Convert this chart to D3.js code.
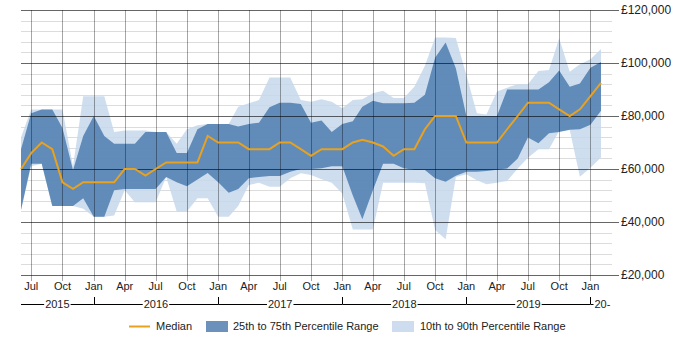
<!DOCTYPE html>
<html>
<head>
<meta charset="utf-8">
<script src="https://cdn.jsdelivr.net/npm/d3@7"></script>
<style>
  body { margin: 0; background: #fff; }
  svg { font-family: "Liberation Sans", Arial, sans-serif; }
  .tick-label { font-size: 11px; fill: #222; }
  .legend text { font-size: 11px; fill: #222; }
</style>
</head>
<body>
<svg id="chart" width="700" height="350"></svg>
<script>
// Monthly salary percentiles, Jun 2015 - Feb 2020
const months = [
  '2015-06','2015-07','2015-08','2015-09','2015-10','2015-11','2015-12',
  '2016-01','2016-02','2016-03','2016-04','2016-05','2016-06','2016-07','2016-08','2016-09','2016-10','2016-11','2016-12',
  '2017-01','2017-02','2017-03','2017-04','2017-05','2017-06','2017-07','2017-08','2017-09','2017-10','2017-11','2017-12',
  '2018-01','2018-02','2018-03','2018-04','2018-05','2018-06','2018-07','2018-08','2018-09','2018-10','2018-11','2018-12',
  '2019-01','2019-02','2019-03','2019-04','2019-05','2019-06','2019-07','2019-08','2019-09','2019-10','2019-11','2019-12',
  '2020-01','2020-02'
]

const p90 = [
  72000, 82500, 82500, 82500, 82500, 61000, 87500,
  87500, 87500, 74000, 74500, 74500, 74500, 74000, 74000, 69500, 75000, 76500, 77000,
  77000, 77000, 83500, 84800, 86000, 94500, 94500, 94500, 86000, 85400, 86300, 85400,
  82900, 86000, 86300, 88600, 89500, 86800, 86800, 91000, 99000, 109600, 109600, 109400,
  95500, 81000, 80600, 89200, 90700, 92000, 92000, 97000, 97400, 109300, 96700, 99500,
  101400, 105300
]
const p75 = [
  67500, 81000, 82500, 82500, 75500, 59500, 72500,
  80000, 72500, 69500, 69500, 69500, 74000, 74000, 74000, 66000, 66000, 75000, 77000,
  77000, 77000, 76000, 77000, 77500, 83300, 85000, 85000, 84500, 77500, 78300, 74000,
  77000, 78000, 83500, 85800, 84800, 84800, 84800, 85000, 88000, 102000, 107700, 98000,
  80000, 80000, 80000, 80000, 90000, 90000, 90000, 90000, 92700, 97200, 91000, 92300,
  98200, 100400
]
const median = [
  60000, 66000, 70000, 67500, 55000, 52500, 55000,
  55000, 55000, 55000, 60000, 60000, 57500, 60000, 62500, 62500, 62500, 62500, 72500,
  70000, 70000, 70000, 67500, 67500, 67500, 70000, 70000, 67500, 65000, 67500, 67500,
  67500, 70000, 71000, 70000, 68500, 65000, 67500, 67500, 75000, 80000, 80000, 80000,
  70000, 70000, 70000, 70000, 75000, 80000, 85000, 85000, 85000, 82500, 80000, 82500,
  87500, 92500
]
const p25 = [
  44500, 62000, 62000, 46000, 46000, 46000, 49000,
  42000, 42000, 52000, 52500, 52500, 52500, 52500, 57000, 55000, 53500, 56000, 58500,
  55000, 51000, 52500, 56500, 57000, 57400, 57400, 59000, 60000, 60000, 60300, 61000,
  61000, 50000, 41000, 52000, 62000, 62000, 60300, 59600, 59600, 56500, 55200, 57500,
  59000, 59000, 59200, 59700, 60200, 64000, 71900, 69700, 73500, 74000, 74800, 75000,
  76700, 82000
]
const p10 = [
  44500, 61000, 62000, 46000, 46000, 46000, 45000,
  42000, 42000, 42500, 52000, 47500, 47500, 47500, 57000, 44000, 44000, 49000, 49000,
  42000, 42000, 46000, 54000, 54800, 53300, 53300, 56500, 58400, 57700, 56100, 54800,
  50800, 37200, 37200, 37200, 54800, 54800, 54800, 54800, 54600, 37000, 33500, 57000,
  58000, 55800, 54200, 54800, 55500, 60200, 64200, 67500, 67500, 74300, 74700, 57100,
  60500, 64300
]

const yTicks = [20000, 40000, 60000, 80000, 100000, 120000]
const monthNames = ['Jan', 'Apr', 'Jul', 'Oct']
const years = ['2015', '2016', '2017', '2018', '2019', '20-']

const parse = d3.timeParse('%Y-%m')
const data = months.map((m, i) => ({
  date: parse(m), p10: p10[i], p25: p25[i], median: median[i], p75: p75[i], p90: p90[i]
}))

const svg = d3.select('#chart')
const plot = { left: 21, right: 601, top: 10, bottom: 275 }

const x = d3.scaleTime()
  .domain(d3.extent(data, d => d.date))
  .range([plot.left, plot.right])
const y = d3.scaleLinear()
  .domain([20000, 120000])
  .range([plot.bottom, plot.top])

// Minor gridlines every 4,000
const minor = d3.range(20000, 120001, 4000).filter(v => yTicks.indexOf(v) < 0)
svg.append('g')
  .selectAll('line')
  .data(minor)
  .join('line')
  .attr('x1', plot.left).attr('x2', 612)
  .attr('y1', d => Math.round(y(d)) + 0.5).attr('y2', d => Math.round(y(d)) + 0.5)
  .style('stroke', '#dcdcdc')

// Bands and median
const band = (lo, hi) => d3.area()
  .x(d => x(d.date))
  .y0(d => y(d[lo]))
  .y1(d => y(d[hi]))

svg.append('path')
  .datum(data)
  .attr('d', band('p10', 'p90'))
  .style('fill', '#c5d8ec')
  .style('opacity', 0.85)

svg.append('path')
  .datum(data)
  .attr('d', band('p25', 'p75'))
  .style('fill', '#4d7daf')
  .style('opacity', 0.85)

// Quarter gridlines (vertical)
const qTicks = x.ticks(d3.timeMonth.every(3))
svg.append('g')
  .selectAll('line')
  .data(qTicks)
  .join('line')
  .attr('x1', d => Math.round(x(d)) + 0.5).attr('x2', d => Math.round(x(d)) + 0.5)
  .attr('y1', plot.top).attr('y2', plot.bottom + 6)
  .style('stroke', '#000')
  .style('stroke-opacity', 0.35)

// Major gridlines, running out into the tick marks
svg.append('g')
  .selectAll('line')
  .data(yTicks)
  .join('line')
  .attr('x1', plot.left).attr('x2', 619)
  .attr('y1', d => Math.round(y(d)) + 0.5).attr('y2', d => Math.round(y(d)) + 0.5)
  .style('stroke', '#000')
  .style('stroke-opacity', 0.6)

svg.append('path')
  .datum(data)
  .attr('d', d3.line().x(d => x(d.date)).y(d => y(d.median)))
  .style('fill', 'none')
  .style('stroke', '#e8a21f')
  .style('stroke-width', 2)

// Y labels on the right
svg.append('g')
  .selectAll('text')
  .data(yTicks)
  .join('text')
  .attr('class', 'tick-label')
  .attr('x', 621)
  .attr('y', d => y(d) + 4)
  .style('font-size', '12px')
  .text(d => '£' + d3.format(',')(d))

// Month labels
svg.append('g')
  .selectAll('text')
  .data(qTicks)
  .join('text')
  .attr('class', 'tick-label')
  .attr('x', d => x(d))
  .attr('y', 290)
  .attr('text-anchor', 'middle')
  .text(d => monthNames[d.getMonth() / 3])

// Year row
const yearRow = 304
const janTicks = qTicks.filter(d => d.getMonth() === 0)
const bounds = [plot.left].concat(janTicks.map(d => x(d))).concat([plot.right + 12])
const yg = svg.append('g')
yg.selectAll('line.jt')
  .data(janTicks)
  .join('line')
  .attr('class', 'jt')
  .attr('x1', d => Math.round(x(d)) + 0.5).attr('x2', d => Math.round(x(d)) + 0.5)
  .attr('y1', yearRow - 7).attr('y2', yearRow)
  .style('stroke', '#000')

years.forEach((label, i) => {
  const a = bounds[i], b = bounds[i + 1]
  const last = i === years.length - 1
  const cx = last ? a + 12 : (a + b) / 2
  const t = yg.append('text')
    .attr('class', 'tick-label')
    .attr('x', cx)
    .attr('y', yearRow + 4)
    .attr('text-anchor', 'middle')
    .text(label)
  const w = t.node().getComputedTextLength()
  const segs = last ? [[a, cx - w / 2 - 1]] : [[a, cx - w / 2 - 1], [cx + w / 2 + 1, b]]
  segs.forEach(s => {
    yg.append('line')
      .attr('x1', s[0]).attr('x2', s[1])
      .attr('y1', yearRow + 0.5).attr('y2', yearRow + 0.5)
      .style('stroke', '#000')
  })
})

// Legend
const legend = svg.append('g').attr('class', 'legend')
legend.append('line')
  .attr('x1', 129).attr('x2', 150)
  .attr('y1', 326.5).attr('y2', 326.5)
  .style('stroke', '#e8a21f')
  .style('stroke-width', 2)
legend.append('text').attr('x', 156).attr('y', 330).text('Median')
legend.append('rect')
  .attr('x', 206).attr('y', 321).attr('width', 22).attr('height', 11)
  .style('fill', '#6c91bb')
legend.append('text').attr('x', 233).attr('y', 330).text('25th to 75th Percentile Range')
legend.append('rect')
  .attr('x', 392).attr('y', 321).attr('width', 22).attr('height', 11)
  .style('fill', '#cddcee')
legend.append('text').attr('x', 420).attr('y', 330).text('10th to 90th Percentile Range')
</script>
</body>
</html>
